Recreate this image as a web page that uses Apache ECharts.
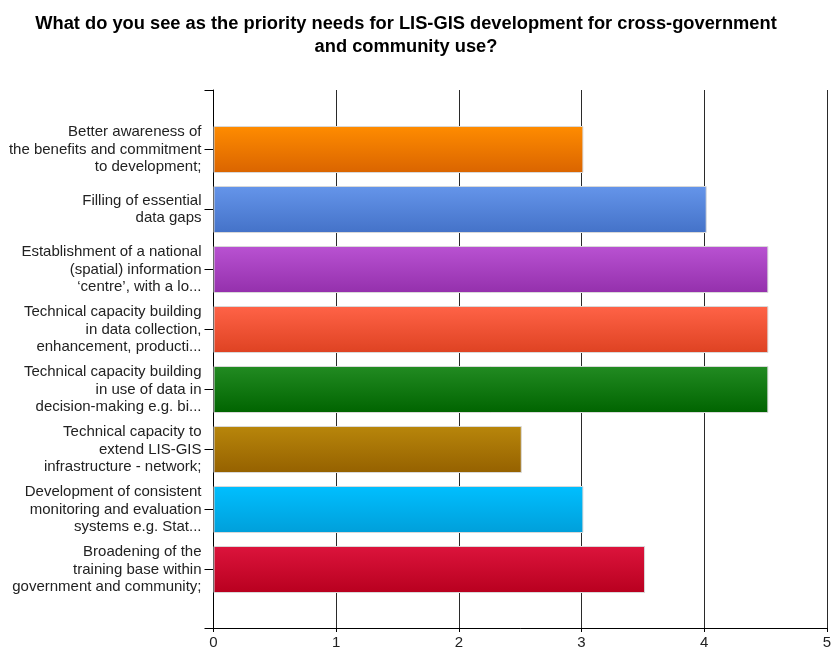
<!DOCTYPE html>
<html>
<head>
<meta charset="utf-8">
<script src="https://cdn.jsdelivr.net/npm/echarts@6/dist/echarts.min.js"></script>
<style>
  html, body { margin: 0; padding: 0; background: #fff; }
  #chart { width: 834px; height: 650px; }
</style>
</head>
<body>
<div id="chart"></div>
<script>
// Survey responses: priority needs for LIS-GIS development
const chartTitle = 'What do you see as the priority needs for LIS-GIS development for cross-government\nand community use?';

const categories = [
  'Better awareness of\nthe benefits and commitment\nto development;',
  'Filling of essential\ndata gaps',
  'Establishment of a national\n(spatial) information\n\u2018centre\u2019, with a lo...',
  'Technical capacity building\nin data collection,\nenhancement, producti...',
  'Technical capacity building\nin use of data in\ndecision-making e.g. bi...',
  'Technical capacity to\nextend LIS-GIS\ninfrastructure - network;',
  'Development of consistent\nmonitoring and evaluation\nsystems e.g. Stat...',
  'Broadening of the\ntraining base within\ngovernment and community;'
];

const scores = [3, 4, 4.5, 4.5, 4.5, 2.5, 3, 3.5];

const xTicks = [0, 1, 2, 3, 4, 5];

// Gradient stops per bar (top, bottom)
const barTop    = ['#FF8C00', '#6595EA', '#B952D2', '#FF6347', '#228B22', '#B8860B', '#00BFFF', '#DC143C'];
const barBottom = ['#DA6400', '#4472C8', '#9430AC', '#DE4222', '#006400', '#956100', '#009FDA', '#B8001F'];

const chart = echarts.init(document.getElementById('chart'), null, { renderer: 'canvas' });

const LEFT = 213.5, RIGHT = 4;

const barData = scores.map((v, i) => ({
  value: v,
  itemStyle: {
    color: new echarts.graphic.LinearGradient(0, 0, 0, 1, [
      { offset: 0, color: barTop[i] },
      { offset: 1, color: barBottom[i] }
    ]),
    borderColor: '#d8d8d8',
    borderWidth: 1
  }
}));

chart.setOption({
  animation: false,
  backgroundColor: '#ffffff',
  graphic: [
    {
      type: 'text',
      x: 406,
      y: 12,
      style: {
        text: chartTitle,
        align: 'center',
        verticalAlign: 'top',
        fontFamily: 'Liberation Sans',
        fontSize: 18.3,
        fontWeight: 'bold',
        fill: '#000',
        lineHeight: 23
      }
    }
  ],
  grid: [
    // frame: axes and vertical grid lines
    { left: LEFT, right: RIGHT, top: 90, bottom: 22, containLabel: false },
    // bars and category labels
    { left: LEFT, right: RIGHT, top: 119.5, height: 480, containLabel: false }
  ],
  xAxis: [
    {
      gridIndex: 0,
      type: 'value',
      min: xTicks[0],
      max: xTicks[xTicks.length - 1],
      interval: 1,
      axisLine: { show: true, lineStyle: { color: '#000', width: 1 } },
      axisTick: { show: true, length: 4, lineStyle: { color: '#000' } },
      axisLabel: {
        color: '#222',
        fontFamily: 'Liberation Sans',
        fontSize: 15,
        margin: 7
      },
      splitLine: { show: true, lineStyle: { color: '#2a2a2a', width: 1 } }
    },
    {
      gridIndex: 1,
      type: 'value',
      min: xTicks[0],
      max: xTicks[xTicks.length - 1],
      show: false
    }
  ],
  yAxis: [
    {
      gridIndex: 0,
      type: 'value',
      min: 0,
      max: 1,
      interval: 1,
      axisLine: { show: true, lineStyle: { color: '#000', width: 1 } },
      axisTick: { show: true, length: 9, lineStyle: { color: '#000' } },
      axisLabel: { show: false },
      splitLine: { show: false }
    },
    {
      gridIndex: 1,
      type: 'category',
      inverse: true,
      data: categories,
      axisLine: { show: false },
      axisTick: { show: true, alignWithLabel: true, length: 9, lineStyle: { color: '#000' } },
      axisLabel: {
        color: '#222',
        fontFamily: 'Liberation Sans',
        fontSize: 15,
        lineHeight: 17.5,
        margin: 12,
        align: 'right'
      },
      splitLine: { show: false }
    }
  ],
  series: [
    {
      type: 'bar',
      xAxisIndex: 1,
      yAxisIndex: 1,
      barWidth: 47,
      data: barData
    }
  ]
});
</script>
</body>
</html>
